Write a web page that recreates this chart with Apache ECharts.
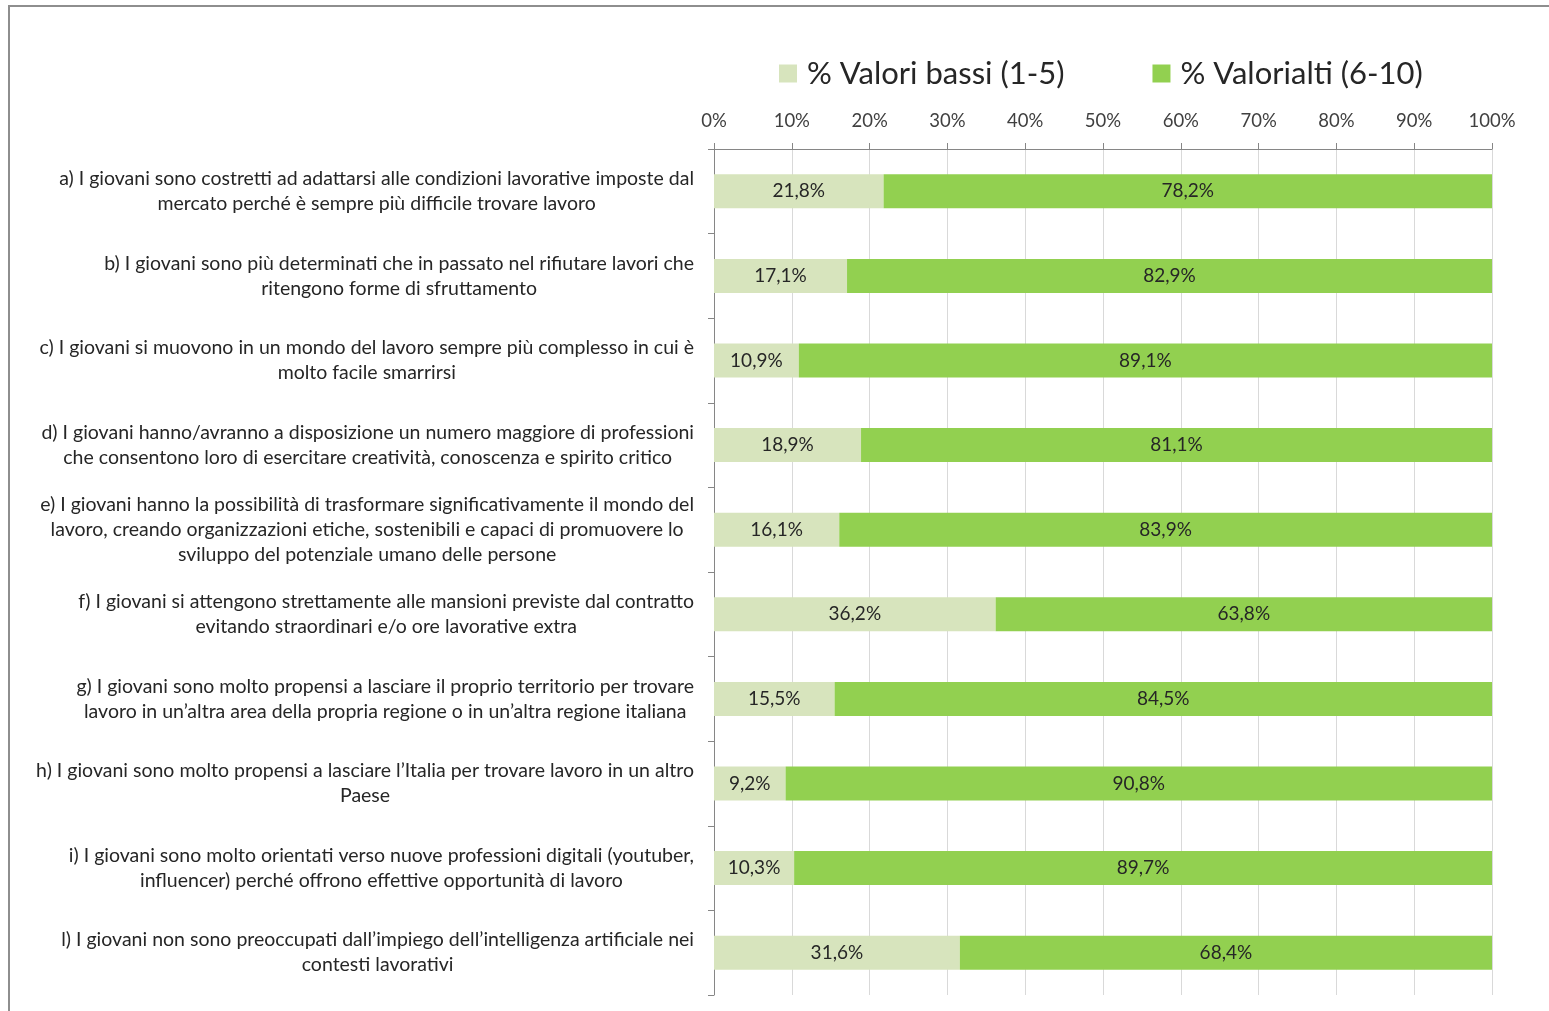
<!DOCTYPE html>
<html>
<head>
<meta charset="utf-8">
<script src="https://cdn.jsdelivr.net/npm/echarts@6/dist/echarts.min.js"></script>
<style>
  html, body { margin: 0; padding: 0; background: #fff; overflow: hidden; }
  #frame { position: absolute; left: 8px; top: 5px; width: 1700px; height: 1200px;
           border-left: 2px solid #8e8e8e; border-top: 2px solid #8e8e8e; }
  #chart { position: absolute; left: 0; top: 0; width: 1549px; height: 1011px; }
</style>
</head>
<body>
<div id="frame"></div>
<div id="chart"></div>
<script>
const categories = [
  "a) I giovani sono costretti ad adattarsi alle condizioni lavorative imposte dal\nmercato perché è sempre più difficile trovare lavoro",
  "b) I giovani sono più determinati che in passato nel rifiutare lavori che\nritengono forme di sfruttamento",
  "c) I giovani si muovono in un mondo del lavoro sempre più complesso in cui è\nmolto facile smarrirsi",
  "d) I giovani hanno/avranno a disposizione un numero maggiore di professioni\nche consentono loro di esercitare creatività, conoscenza e spirito critico",
  "e) I giovani hanno la possibilità di trasformare significativamente il mondo del\nlavoro, creando organizzazioni etiche, sostenibili e capaci di promuovere lo\nsviluppo del potenziale umano delle persone",
  "f) I giovani si attengono strettamente alle mansioni previste dal contratto\nevitando straordinari e/o ore lavorative extra",
  "g) I giovani sono molto propensi a lasciare il proprio territorio per trovare\nlavoro in un’altra area della propria regione o in un’altra regione italiana",
  "h) I giovani sono molto propensi a lasciare l’Italia per trovare lavoro in un altro\nPaese",
  "i) I giovani sono molto orientati verso nuove professioni digitali (youtuber,\ninfluencer) perché offrono effettive opportunità di lavoro",
  "l) I giovani non sono preoccupati dall’impiego dell’intelligenza artificiale nei\ncontesti lavorativi"
];
const seriesNames = ["% Valori bassi (1-5)", "% Valorialti (6-10)"];
const lowValues  = [21.8, 17.1, 10.9, 18.9, 16.1, 36.2, 15.5, 9.2, 10.3, 31.6];
const highValues = [78.2, 82.9, 89.1, 81.1, 83.9, 63.8, 84.5, 90.8, 89.7, 68.4];
const xTicks = [0, 10, 20, 30, 40, 50, 60, 70, 80, 90, 100];

const FONT = "Lato, 'Open Sans', sans-serif";
const chart = echarts.init(document.getElementById('chart'), null, { renderer: 'canvas' });
const pct = v => v.toFixed(1).replace('.', ',') + '%';

chart.setOption({
  animation: false,
  backgroundColor: 'transparent',
  textStyle: { fontFamily: FONT },
  legend: {
    left: 779, top: 58, padding: 0,
    itemWidth: 18, itemHeight: 18, itemGap: 88,
    icon: 'rect',
    textStyle: { fontSize: 31, color: '#262626', fontFamily: FONT, padding: [0, 0, 0, 5] },
    data: seriesNames
  },
  grid: { left: 714, right: 57, top: 149, bottom: 16, containLabel: false },
  xAxis: {
    type: 'value', position: 'top', min: xTicks[0], max: xTicks[xTicks.length - 1], interval: 10,
    axisLine: { show: true, lineStyle: { color: '#868686', width: 1 } },
    axisTick: { show: true, length: 6, lineStyle: { color: '#868686' } },
    axisLabel: { formatter: '{value}%', fontSize: 18.5, color: '#404040', margin: 18, fontFamily: FONT },
    splitLine: { show: true, lineStyle: { color: '#D9D9D9', width: 1 } }
  },
  yAxis: {
    type: 'category', inverse: true, data: categories,
    axisLine: { show: true, lineStyle: { color: '#868686', width: 1 } },
    axisTick: { show: true, length: 6, lineStyle: { color: '#868686' } },
    axisLabel: {
      margin: 20, interval: 0,
      formatter: v => v.split('\n').map(l => '{c|' + l + '}').join('\n'),
      rich: { c: { align: 'center', fontSize: 19.5, lineHeight: 25, color: '#262626', fontFamily: FONT } }
    },
    splitLine: { show: false }
  },
  series: [
    {
      name: seriesNames[0], type: 'bar', stack: 'tot', data: lowValues, barWidth: 34,
      itemStyle: { color: '#D7E4BD' },
      label: { show: true, position: 'inside', formatter: p => pct(p.value), fontSize: 19, color: '#262626', fontFamily: FONT }
    },
    {
      name: seriesNames[1], type: 'bar', stack: 'tot', data: highValues, barWidth: 34,
      itemStyle: { color: '#92D050' },
      label: { show: true, position: 'inside', formatter: p => pct(p.value), fontSize: 19, color: '#262626', fontFamily: FONT }
    }
  ]
});
</script>
</body>
</html>
